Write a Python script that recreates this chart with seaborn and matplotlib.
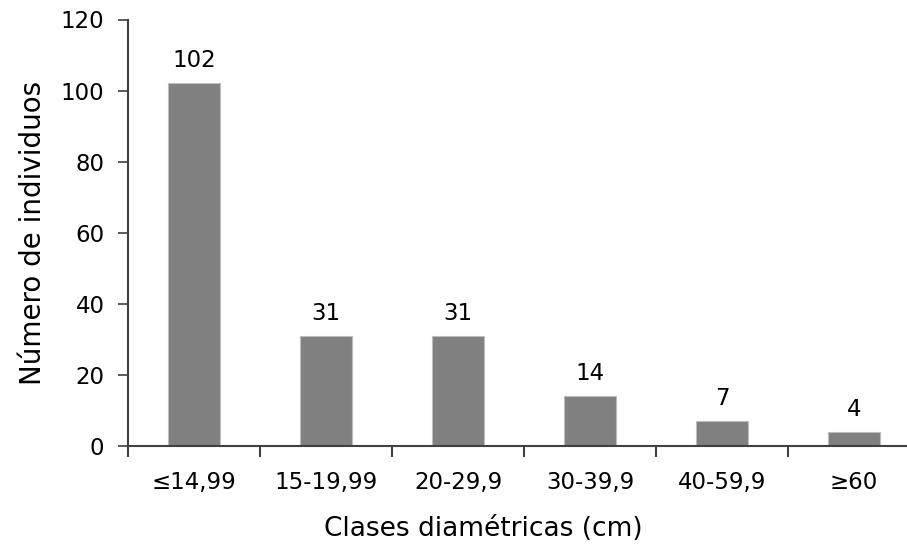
import matplotlib
matplotlib.use('Agg')
import matplotlib.pyplot as plt
import seaborn as sns
import pandas as pd

clases = ['≤14,99', '15-19,99', '20-29,9', '30-39,9', '40-59,9', '≥60']
individuos = [102, 31, 31, 14, 7, 4]

df = pd.DataFrame({'clase': clases, 'n': individuos})

sns.set_style('ticks')
plt.rcParams['font.family'] = ['DejaVu Sans']
plt.rcParams['text.color'] = 'black'
plt.rcParams['xtick.labelcolor'] = 'black'
plt.rcParams['ytick.labelcolor'] = 'black'

fig = plt.figure(figsize=(9.07, 5.46), dpi=100)
ax = fig.add_axes([128 / 907, 1 - 446 / 546, (907 - 128) / 907, (446 - 19.5) / 546])

sns.barplot(data=df, x='clase', y='n', color='#808080', saturation=1,
            width=0.4, edgecolor='#bdbdbd', linewidth=0.8, ax=ax)

ax.bar_label(ax.containers[0], labels=[str(v) for v in individuos],
             padding=8, fontsize=16.5, color='black')

ax.set_ylim(0, 120)
ax.set_yticks(range(0, 121, 20))
ax.set_xlim(-0.5, -0.5 + (907 - 128) / 132)

# tick marks between the classes, labels centred under the bars
ax.set_xticks(range(len(clases)))
ax.set_xticklabels(clases, fontsize=16.5)
ax.set_xticks([i - 0.5 for i in range(len(clases))], minor=True)
ax.tick_params(axis='x', which='major', length=0, pad=18)
ax.tick_params(axis='x', which='minor', length=8, width=1.5, color='#404040', direction='out')
ax.tick_params(axis='y', length=7, width=1.2, color='#404040', direction='out', labelsize=16.5, pad=10)

ax.set_xlabel('Clases diamétricas (cm)', fontsize=19, labelpad=16, color='black')
ax.xaxis.label.set_x((483 - 128) / 779)
ax.set_ylabel('Número de individuos', fontsize=20, labelpad=10, color='black')

sns.despine(ax=ax)
for s in ['left', 'bottom']:
    ax.spines[s].set_color('#404040')
    ax.spines[s].set_linewidth(1.5)

fig.savefig('out.png', dpi=100)
